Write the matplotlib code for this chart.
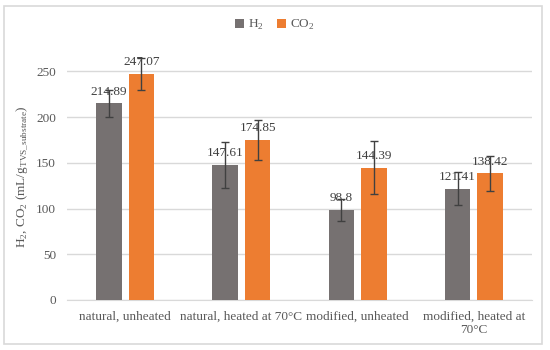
import numpy as np
import matplotlib
matplotlib.use('Agg')
from matplotlib import pyplot as plt
from matplotlib.patches import Rectangle

categories = ['natural, unheated', 'natural, heated at 70°C',
              'modified, unheated', 'modified, heated at\n70°C']
h2_vals = [214.89, 147.61, 98.8, 121.41]
co2_vals = [247.07, 174.85, 144.39, 138.42]
h2_err = [15, 25, 12, 18]
co2_err = [17, 22, 29, 19]

plt.rcParams['font.family'] = ['Liberation Serif', 'DejaVu Serif']
plt.rcParams['mathtext.fontset'] = 'custom'
plt.rcParams['mathtext.rm'] = 'Liberation Serif'

gray = '#767171'
orange = '#ED7D31'
txt = '#595959'

fig = plt.figure(figsize=(5.5, 3.5), dpi=100)
fig.patches.append(Rectangle((4/550, 6/350), 538/550, 338/350, transform=fig.transFigure,
                             fill=False, edgecolor='#D9D9D9', linewidth=1.2))
ax = fig.add_axes([67/550, 50/350, 465/550, 247/350])

x = np.arange(len(categories))
w = 0.22
off = 0.14
b1 = ax.bar(x - off, h2_vals, w, color=gray, label='H$_2$', zorder=3)
b2 = ax.bar(x + off, co2_vals, w, color=orange, label='CO$_2$', zorder=3)
ax.errorbar(x - off, h2_vals, yerr=h2_err, fmt='none', ecolor='#404040',
            elinewidth=1, capsize=3, capthick=1, zorder=4)
ax.errorbar(x + off, co2_vals, yerr=co2_err, fmt='none', ecolor='#404040',
            elinewidth=1, capsize=3, capthick=1, zorder=4)

for bars, vals in ((b1, h2_vals), (b2, co2_vals)):
    for b, v in zip(bars, vals):
        ax.annotate('%g' % v, (b.get_x() + b.get_width()/2, v), xytext=(0, 4),
                    textcoords='offset points', ha='center', va='bottom',
                    fontsize=9.5, color='#404040', zorder=5)

ax.set_xlim(-0.5, 3.5)
ax.set_ylim(0, 270)
ax.set_yticks([0, 50, 100, 150, 200, 250])
ax.set_xticks(x)
ax.set_xticklabels(categories, fontsize=9.5, linespacing=1.15)
ax.yaxis.grid(True, color='#D9D9D9', linewidth=1, zorder=0)
ax.set_axisbelow(True)
for s in ('top', 'right', 'left'):
    ax.spines[s].set_visible(False)
ax.spines['bottom'].set_color('#D9D9D9')
ax.tick_params(axis='y', length=0, labelsize=9.5, colors=txt, pad=8)
ax.tick_params(axis='x', length=0, colors=txt, pad=8)
ax.set_ylabel(r'H$_2$, CO$_2$ (mL/g$_{\mathrm{TVS\_substrate}}$)', fontsize=9.5, color=txt)

fig.legend(handles=[b1, b2], loc='center', bbox_to_anchor=(0.5, 0.929), ncol=2,
           frameon=False, fontsize=9.5, handlelength=0.7, handleheight=0.7,
           handletextpad=0.3, columnspacing=1.0, labelcolor=txt)

fig.savefig('out.png', dpi=100)
